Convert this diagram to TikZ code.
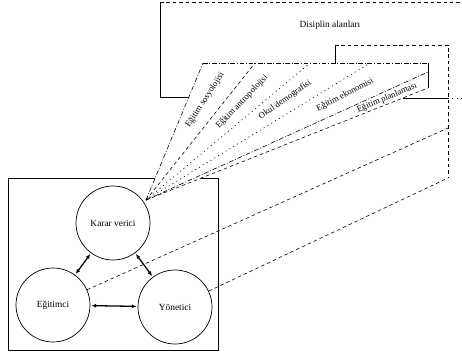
\documentclass[tikz,border=0pt]{standalone}
\usepackage{fontspec}
\setmainfont{Liberation Serif}
\usetikzlibrary{arrows.meta}
\begin{document}
\begin{tikzpicture}[x=0.03cm,y=-0.03cm,
  every node/.style={font=\fontsize{8}{9}\selectfont},
  ball/.style={draw,circle,minimum size=2.22cm,inner sep=0pt,line width=0.6pt},
  fanlabel/.style={font=\fontsize{7.5}{8}\selectfont,inner sep=0.5pt},
  both/.style={{Latex[length=4pt,width=3.5pt]}-{Latex[length=4pt,width=3.5pt]},line width=1.1pt,shorten <=1pt,shorten >=1pt},
  thin line/.style={line width=0.5pt},
  dashline/.style={line width=0.5pt,dash pattern=on 3pt off 2.5pt},
  dotline/.style={line width=0.6pt,dash pattern=on 0.8pt off 3pt},
  dashdotline/.style={line width=0.5pt,dash pattern=on 4pt off 1.5pt on 0.8pt off 1.5pt}]
\useasboundingbox (0,0) rectangle (462,356);
\coordinate (AP) at (146,200); % apex of fan
\coordinate (F1) at (203,63); % fan top left
\coordinate (F2) at (255,63);
\coordinate (F3) at (310,63);
\coordinate (F4) at (370,63);
\coordinate (FT) at (428,63); % fan top right
\coordinate (F5) at (428,72);
\coordinate (F6) at (428,88); % fan bottom right
\coordinate (D0) at (160,2); % disiplin box
\coordinate (D1) at (160,97);
\coordinate (D2) at (188,97);
\coordinate (D3) at (403,98);
\coordinate (D4) at (448,98);
\coordinate (D5) at (462,98);
\coordinate (DR) at (462,2);
\coordinate (P0) at (335,63); % back panel
\coordinate (P1) at (335,45);
\coordinate (P2) at (448,45);
\coordinate (P3) at (448,178);
\coordinate (PE) at (448,128);
\coordinate (B0) at (8,178); % main box
\coordinate (B1) at (218,178);
\coordinate (B2) at (218,350);
\coordinate (B3) at (8,350);
\coordinate (G1) at (155,178);
\coordinate (G2) at (201,178);
% disiplin alanlari
\draw[dashline] (D0) -- (DR);
\draw[thin line] (D0) -- (D1) -- (D2);
\draw[thin line] (D3) -- (D4);
\draw[dotline] (D4) -- (D5);
\node (DA) at (330,25) {Disiplin alanları};
\draw[thin line] (P0) -- (P1);
\draw[dashline] (P1) -- (P2) -- (P3);
% fan
\draw[dashdotline] (AP) -- (F1);
\draw[dashline] (AP) -- (F2);
\draw[dotline] (AP) -- (F3);
\draw[dotline] (AP) -- (F4);
\draw[dashdotline] (AP) -- (F5);
\draw[dashline] (AP) -- (F6);
\draw[dashdotline] (F1) -- (FT);
\draw[thin line] (FT) -- (F6);
\node[fanlabel,rotate=57] (L1) at (205,100) {Eğitim sosyolojisi};
\node[fanlabel,rotate=46] (L2) at (242,102) {Eğitim antropolojisi};
\node[fanlabel,rotate=35] (L3) at (285,100) {Okul demografisi};
\node[fanlabel,rotate=27.5] (L4) at (345,95) {Eğitim ekonomisi};
\node[fanlabel,rotate=23] (L5) at (387,98) {Eğitim planlaması};
% main box
\draw[thin line] (G1) -- (B0) -- (B3) -- (B2) -- (B1) -- (G2);
\node[ball] (KV) at (113,223) {Karar verici};
\node[ball] (EG) at (53,305) {Eğitimci};
\node[ball] (YO) at (175,307) {Yönetici};
\draw[both] (KV) -- (EG);
\draw[both] (KV) -- (YO);
\draw[both] (EG) -- (YO);
\draw[dashline] (EG) -- (PE);
\draw[dashline] (YO) -- (P3);
\end{tikzpicture}
\end{document}
